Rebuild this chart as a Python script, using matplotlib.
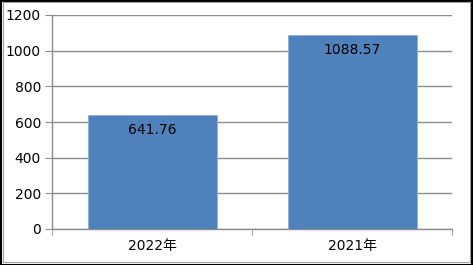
import matplotlib
matplotlib.use("Agg")
import matplotlib.pyplot as plt
from matplotlib.patches import Rectangle

# data
categories = ["2022年", "2021年"]
values = [641.76, 1088.57]
y_ticks = [0, 200, 400, 600, 800, 1000, 1200]

plt.rcParams["font.family"] = ["DejaVu Sans", "Noto Sans CJK SC"]

W, H = 473, 265
fig = plt.figure(figsize=(W / 100, H / 100), dpi=100)
ax = fig.add_axes([52 / W, (H - 229) / H, 400 / W, 214 / H])

grid_col = "#8c8c8c"
x = list(range(len(categories)))
bars = ax.bar(x, values, width=0.645, color="#4f81bd", edgecolor="#8eb0dc",
              linewidth=0.6, zorder=3)

# value labels just inside the top of each bar
for b, v in zip(bars, values):
    ax.annotate(f"{v:.2f}", (b.get_x() + b.get_width() / 2, v),
                xytext=(0, -15), textcoords="offset pixels",
                ha="center", va="center", fontsize=10, color="black", zorder=4)

ax.set_xlim(-0.5, len(categories) - 0.5)
ax.set_ylim(0, 1200)
ax.set_yticks(y_ticks)
ax.set_yticklabels([str(t) for t in y_ticks])
ax.set_xticks(x)
ax.set_xticklabels(categories)
ax.set_xticks([-0.5, 0.5, 1.5], minor=True)

ax.yaxis.grid(True, color=grid_col, linewidth=1, zorder=0)
ax.set_axisbelow(True)

for s in ["top", "right"]:
    ax.spines[s].set_visible(False)
for s in ["left", "bottom"]:
    ax.spines[s].set_color(grid_col)
    ax.spines[s].set_linewidth(1)

ax.tick_params(axis="y", length=5, color=grid_col, labelsize=10, pad=3)
ax.tick_params(axis="x", which="major", length=0, labelsize=10, pad=7)
ax.tick_params(axis="x", which="minor", length=4, color=grid_col)

# outer border
fig.patches.append(Rectangle((0.5 / W, 0.5 / H), (W - 1.5) / W, (H - 1.5) / H,
                             transform=fig.transFigure, fill=False,
                             edgecolor="black", linewidth=1.5))
fig.patches.append(Rectangle((2.5 / W, 3.5 / H), (W - 5.5) / W, (H - 5) / H,
                             transform=fig.transFigure, fill=False,
                             edgecolor="#a0a0a0", linewidth=0.8))

fig.savefig("out.png", dpi=100)
